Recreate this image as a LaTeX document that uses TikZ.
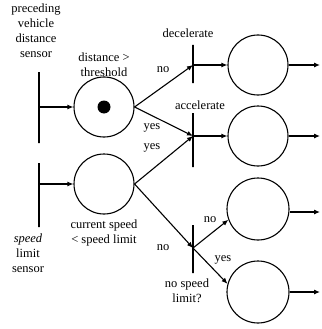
\documentclass[tikz,border=0pt]{standalone}
\usepackage{fontspec}
\setmainfont{Liberation Serif}
\usetikzlibrary{arrows.meta}
\begin{document}
\begin{tikzpicture}[x=1pt,y=-1pt,
  place/.style={circle,draw,line width=1.1pt,minimum size=60pt,inner sep=0pt},
  tbar/.style={draw,line width=1.1pt,rectangle,minimum width=0pt,inner sep=0pt},
  arc/.style={line width=1.1pt,-{Latex[length=6pt,width=5pt]}},
  lbl/.style={font=\fontsize{12.5}{15}\selectfont,inner sep=0pt,align=center},
  ]
\useasboundingbox (0,0) rectangle (321,329);

% sensor bars
\node[tbar,minimum height=71pt] (s1) at (39,107.5) {};
\node[tbar,minimum height=64pt] (s2) at (39,195) {};

% places
\node[place] (p1) at (104,107) {};
\fill (p1.center) circle (6.5pt);
\node[place] (p2) at (104,184) {};
\node[place] (p3) at (258,65) {};
\node[place] (p4) at (258,136) {};
\node[place,minimum size=62pt] (p5) at (258,209) {};
\node[place,minimum size=62pt] (p6) at (258,292) {};

% transition bars
\node[tbar,minimum height=38pt] (t1) at (193,64) {};
\node[tbar,minimum height=54pt] (t2) at (193,140) {};
\node[tbar,minimum height=48pt] (t3) at (193,249) {};
\coordinate (j1) at (193,65);
\coordinate (j2) at (193,136);
\coordinate (j3) at (193,248);

% output ends
\coordinate (o3) at (320,65);
\coordinate (o4) at (320,136);
\coordinate (o5) at (320,212);
\coordinate (o6) at (320,292);

% sensor inputs
\draw[arc] (s1.center |- p1) -- (p1);
\draw[arc] (s2.center |- p2) -- (p2);

% decisions
\draw[arc] (p1.east) -- (j1);
\draw[arc] (p1.east) -- (j2);
\draw[arc] (p2.east) -- (j2);
\draw[arc] (p2.east) -- (j3);

% transitions to places
\draw[arc] (j1) -- (p3);
\draw[arc] (j2) -- (p4);
\draw[arc] (j3) -- (p5.200);
\draw[arc] (j3) -- (p6.165);

% outputs
\draw[arc] (p3.east) -- (o3);
\draw[arc] (p4.east) -- (o4);
\draw[arc] (p5.east |- o5) -- (o5);
\draw[arc] (p6.east) -- (o6);

% labels
\node[lbl] (l1) at (36,31) {preceding\\vehicle\\distance\\sensor};
\node[lbl] (l2) at (28,253) {\textit{speed}\\limit\\sensor};
\node[lbl] (l3) at (104,65) {distance >\\threshold};
\node[lbl] (l4) at (104,233) {current speed\\< speed limit};
\node[lbl] (l5) at (188,33) {decelerate};
\node[lbl] (l6) at (200,105) {accelerate};
\node[lbl] (l7) at (187,291) {no speed\\limit?};
\node[lbl] (n1) at (163,70) {no};
\node[lbl] (y1) at (152,128) {yes};
\node[lbl] (y2) at (152,148) {yes};
\node[lbl] (n2) at (163,248) {no};
\node[lbl] (n3) at (210,220) {no};
\node[lbl] (y3) at (223,260) {yes};
\end{tikzpicture}
\end{document}
